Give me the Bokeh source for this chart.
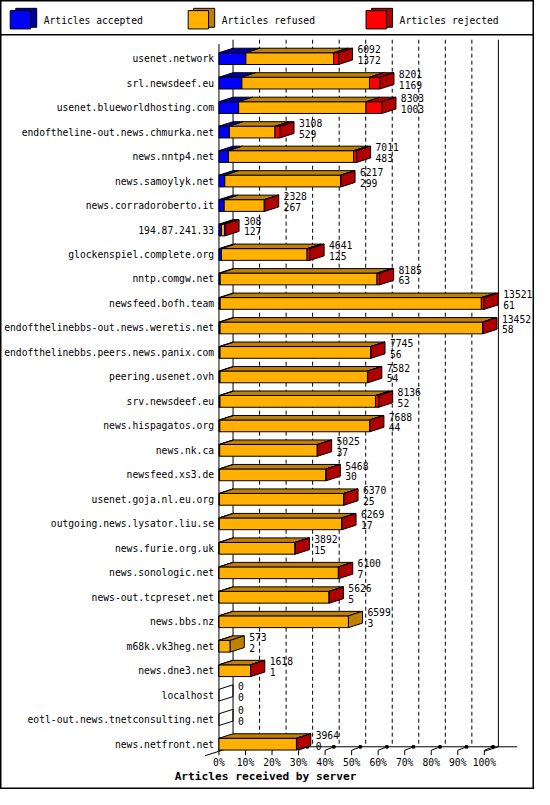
from bokeh.plotting import figure
from bokeh.models import Range1d, ColumnDataSource, Span
from bokeh.core.properties import value
from bokeh.embed import file_html
from bokeh.resources import INLINE

# ---------------- data ----------------
servers = [
    "usenet.network", "srl.newsdeef.eu", "usenet.blueworldhosting.com",
    "endoftheline-out.news.chmurka.net", "news.nntp4.net", "news.samoylyk.net",
    "news.corradoroberto.it", "194.87.241.33", "glockenspiel.complete.org",
    "nntp.comgw.net", "newsfeed.bofh.team", "endofthelinebbs-out.news.weretis.net",
    "endofthelinebbs.peers.news.panix.com", "peering.usenet.ovh", "srv.newsdeef.eu",
    "news.hispagatos.org", "news.nk.ca", "newsfeed.xs3.de", "usenet.goja.nl.eu.org",
    "outgoing.news.lysator.liu.se", "news.furie.org.uk", "news.sonologic.net",
    "news-out.tcpreset.net", "news.bbs.nz", "m68k.vk3heg.net", "news.dne3.net",
    "localhost", "eotl-out.news.tnetconsulting.net", "news.netfront.net",
]
offered = [6092, 8201, 8303, 3108, 7011, 6217, 2328, 308, 4641, 8185, 13521, 13452,
           7745, 7582, 8136, 7688, 5025, 5468, 6370, 6269, 3892, 6100, 5626, 6599,
           573, 1618, 0, 0, 3964]
accepted = [1372, 1169, 1003, 529, 483, 299, 267, 127, 125, 63, 61, 58, 56, 54, 52,
            44, 37, 30, 25, 17, 15, 7, 5, 3, 2, 1, 0, 0, 0]
rejected = [250, 530, 810, 250, 150, 20, 20, 20, 150, 130, 150, 20, 15, 15, 160, 15,
            15, 15, 15, 15, 15, 15, 15, 0, 0, 10, 0, 0, 15]
series_names = ["Articles accepted", "Articles refused", "Articles rejected"]
tick_values = [0, 10, 20, 30, 40, 50, 60, 70, 80, 90, 100]
tick_labels = ["0%", "10%", "20%", "30%", "40%", "50%", "60%", "70%", "80%", "90%", "100%"]
x_title = "Articles received by server"

# ---------------- style / layout ----------------
front_colors = ["#0000ff", "#ffb000", "#ff0000"]
top_colors = ["#0000a0", "#c08000", "#b00000"]
FONT = value("DejaVu Sans Mono")
W, H = 534, 789
REF_W, REF_H = 550.0, 805.0
PX_X0, PX_PER_PCT = 225.0, 2.733     # reference pixel of 0 %, pixels per percent
PX_ROW0, PX_ROW = 59.3, 24.98        # reference pixel of first row centre, row pitch


def X(px):
    return (px - PX_X0) / PX_PER_PCT


def Y(py):
    return (py - PX_ROW0) / PX_ROW


def LX(px):
    return px / PX_PER_PCT


def LY(py):
    return py / PX_ROW


DX, DY, HALF = LX(14.5), LY(4.6), LY(6.0)

p = figure(width=W, height=H,
           x_range=Range1d(X(0), X(REF_W)), y_range=Range1d(Y(REF_H), Y(0)),
           output_backend="svg", toolbar_location=None,
           x_axis_location=None, y_axis_location=None, min_border=0,
           outline_line_color="black", outline_line_width=2,
           background_fill_color="white", border_fill_color="white")
p.grid.visible = False

# ---------------- back plane / axes ----------------
base = Y(766)
back = base - DY
top_back = Y(40)
# back solid edges
p.segment(x0=[DX, 100 + DX], y0=[top_back, top_back], x1=[DX, 100 + DX], y1=[back, back],
          line_color="black", line_width=1)
# dashed grid on the back plane
grid_x = [t + DX for t in tick_values[1:-1]]
p.segment(x0=grid_x, y0=[top_back] * len(grid_x), x1=grid_x, y1=[back] * len(grid_x),
          line_color="black", line_width=1, line_dash="4 3")
# front left axis
p.segment(x0=[0], y0=[Y(44.5)], x1=[0], y1=[base], line_color="black", line_width=1)
# back baseline and diagonals
p.segment(x0=[DX, DX, 100], y0=[back, back, base], x1=[X(532), -DX, 100 + DX],
          y1=[back, base + DY, back], line_color="black", line_width=1)
# 3-D ticks
p.segment(x0=tick_values, y0=[base - LY(1)] * 11, x1=tick_values, y1=[base + LY(4)] * 11,
          line_color="black", line_width=1)
p.segment(x0=tick_values, y0=[base - LY(1)] * 11, x1=[t + LX(9) for t in tick_values],
          y1=[base - LY(4.5)] * 11, line_color="black", line_width=1)
p.scatter(x=[t + LX(9) for t in tick_values], y=[base - LY(4.5)] * 11, marker="square",
          size=2.5, color="black")

# ---------------- bars ----------------
max_total = max(offered)
xs, ys, fills, alphas = [], [], [], []
lab_x, lab_top_y, lab_bot_y, lab_top, lab_bot = [], [], [], [], []
for i, name in enumerate(servers):
    segs = [accepted[i], offered[i] - accepted[i] - rejected[i], rejected[i]]
    c = i
    t, b = c - HALF, c + HALF
    start = 0.0
    last = None
    for k, v in enumerate(segs):
        if v <= 0:
            continue
        x0 = start
        x1 = start + v / max_total * 100.0
        xs.append([x0, x1, x1, x0]); ys.append([t, t, b, b])
        fills.append(front_colors[k]); alphas.append(1.0)
        xs.append([x0, x0 + DX, x1 + DX, x1]); ys.append([t, t - DY, t - DY, t])
        fills.append(top_colors[k]); alphas.append(1.0)
        start = x1
        last = k
    end = start
    xs.append([end, end + DX, end + DX, end]); ys.append([t, t - DY, b - DY, b])
    fills.append(top_colors[last] if last is not None else "white")
    alphas.append(1.0 if last is not None else 0.0)
    lab_x.append(end + DX + LX(5))
    lab_top_y.append(c - LY(9.5)); lab_bot_y.append(c + LY(1.5))
    lab_top.append(str(offered[i])); lab_bot.append(str(accepted[i]))

p.patches(xs=xs, ys=ys, fill_color=fills, fill_alpha=alphas,
          line_color="black", line_width=1, line_join="miter")

# value labels
p.text(x=lab_x + lab_x, y=lab_top_y + lab_bot_y, text=lab_top + lab_bot,
       text_font=FONT, text_font_size="9.7px", text_baseline="middle",
       text_align="left", text_color="black")

# category labels
p.text(x=[X(220)] * len(servers), y=list(range(len(servers))), text=servers,
       text_font=FONT, text_font_size="9.7px", text_baseline="middle",
       text_align="right", text_color="black")

# tick labels
p.text(x=tick_values, y=[Y(777.5)] * 11, text=tick_labels, text_font=FONT,
       text_font_size="9.7px", text_baseline="middle", text_align="center",
       text_color="black")
# axis title
p.text(x=[X(273)], y=[Y(792)], text=[x_title], text_font=FONT,
       text_font_size="11.2px", text_font_style="bold", text_baseline="middle",
       text_align="center", text_color="black")

# ---------------- legend ----------------
leg_px = [10.0, 193.3, 376.5]
p.quad(left=[X(x + 5.7) for x in leg_px], right=[X(x + 27.3) for x in leg_px],
       top=[Y(8)] * 3, bottom=[Y(27.3)] * 3, fill_color=top_colors,
       line_color="black", line_width=1)
p.quad(left=[X(x) for x in leg_px], right=[X(x + 21) for x in leg_px],
       top=[Y(10.3)] * 3, bottom=[Y(29)] * 3, fill_color=front_colors,
       line_color="black", line_width=1)
p.text(x=[X(x + 34.5) for x in leg_px], y=[Y(20.5)] * 3, text=series_names,
       text_font=FONT, text_font_size="9.7px", text_baseline="middle",
       text_align="left", text_color="black")
p.add_layout(Span(location=Y(35), dimension="width", line_color="black", line_width=1.5))

open("out.html", "w").write(file_html(p, INLINE))
